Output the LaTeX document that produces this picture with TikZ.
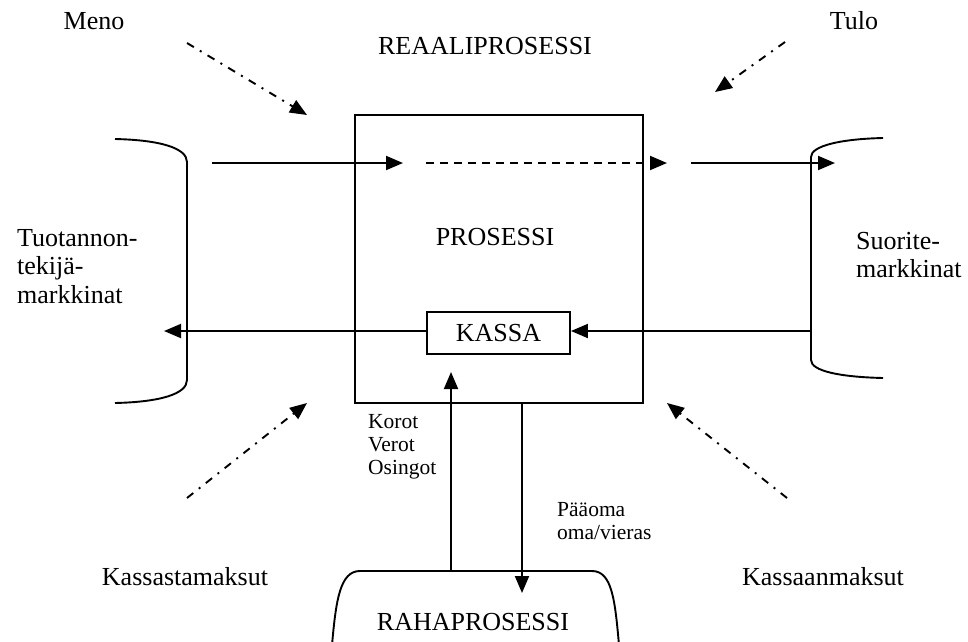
\documentclass[tikz,border=0pt]{standalone}
\usepackage{fontspec}
\setmainfont{Liberation Serif}
\usetikzlibrary{arrows.meta}

\tikzset{
  line/.style={line width=1.9pt},
  tip/.style={-{Triangle[length=17pt,width=14pt]}},
  flow/.style={line, tip},
  dflow/.style={line, tip, dash pattern=on 8pt off 6pt},
  ddflow/.style={line, tip, dash pattern=on 8pt off 7pt on 2pt off 7pt},
  lbl/.style={font=\fontsize{26}{28.5}\selectfont, inner sep=0pt},
  slbl/.style={font=\fontsize{21.5}{23}\selectfont, inner sep=0pt, align=left},
  box/.style={draw, line width=1.9pt, inner sep=0pt},
}

\begin{document}
\begin{tikzpicture}[x=1pt, y=-1pt]
\useasboundingbox (0,0) rectangle (968,641);

% main process box and cash box
\node[box, minimum width=288pt, minimum height=288pt] (proc) at (499,259) {};
\node[box, minimum width=143pt, minimum height=42pt, lbl] (kassa) at (498.5,333) {KASSA};

% titles
\node[lbl, anchor=base] (real) at (485,54) {REAALIPROSESSI};
\node[lbl, anchor=base] (prosessi) at (495,245) {PROSESSI};
\node[lbl, anchor=base] (meno) at (94,29) {Meno};
\node[lbl, anchor=base] (tulo) at (854,29) {Tulo};
\node[lbl, anchor=base] (kout) at (185,585) {Kassastamaksut};
\node[lbl, anchor=base] (kin) at (823,585) {Kassaanmaksut};
\node[lbl, anchor=north west, align=left] (tuot) at (17,229) {Tuotannon-\\tekijä-\\markkinat};
\node[lbl, anchor=north west, align=left] (suor) at (856,232) {Suorite-\\markkinat};
\node[slbl, anchor=north west] (korot) at (368,414) {Korot\\Verot\\Osingot};
\node[slbl, anchor=north west] (paaoma) at (557,502) {Pääoma\\oma/vieras};

% factor market bracket (left) and output market bracket (right)
\draw[line] (115,139) .. controls (160,140) and (187,148) .. (187,162)
  -- (187,380) .. controls (187,394) and (160,402) .. (115,403);
\draw[line] (883,138) .. controls (840,139) and (811,146) .. (811,157)
  -- (811,360) .. controls (811,371) and (840,377) .. (883,378);

% money process shape at the bottom
\node[lbl, anchor=base] (raha) at (473,630) {RAHAPROSESSI};
\draw[line] (332,645) .. controls (336,600) and (340,571) .. (360,571)
  -- (592,571) .. controls (612,571) and (615,600) .. (619,645);

% real flow through the process
\coordinate (a1) at (212,163);
\coordinate (a2) at (403,163);
\coordinate (b1) at (426,163);
\coordinate (b2) at (667,163);
\coordinate (c1) at (691,163);
\coordinate (c2) at (835,163);
\draw[flow] (a1) -- (a2);
\draw[dflow] (b1) -- (b2);
\draw[flow] (c1) -- (c2);

% cash flows
\coordinate (lp) at (164,331);
\coordinate (rp) at (811,331);
\draw[flow] (kassa.west |- lp) -- (lp);
\draw[flow] (rp) -- (kassa.east |- rp);
\coordinate (up1) at (451,571);
\coordinate (up2) at (451,372);
\coordinate (dn1) at (522,403);
\coordinate (dn2) at (522,593);
\draw[flow] (up1) -- (up2);
\draw[flow] (dn1) -- (dn2);

% expense / income / payment indicators
\coordinate (m1) at (187,43);
\coordinate (m2) at (307,115);
\coordinate (t1) at (785,42);
\coordinate (t2) at (715,92);
\coordinate (ko1) at (187,498);
\coordinate (ko2) at (307,403);
\coordinate (ki1) at (787,498);
\coordinate (ki2) at (667,403);
\draw[ddflow] (m1) -- (m2);
\draw[ddflow] (t1) -- (t2);
\draw[ddflow] (ko1) -- (ko2);
\draw[ddflow] (ki1) -- (ki2);
\end{tikzpicture}
\end{document}
